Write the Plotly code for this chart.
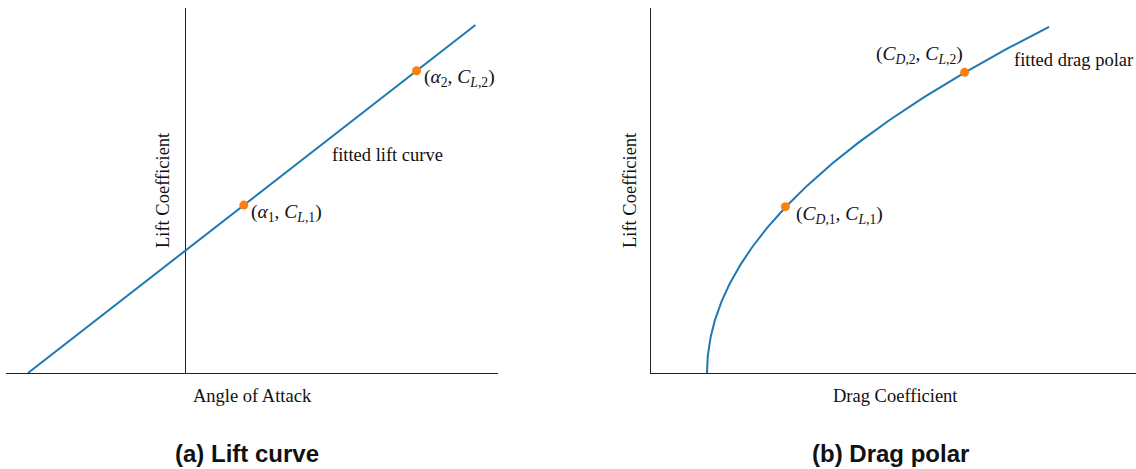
import plotly.graph_objects as go
import numpy as np

# Lift curve: linear fit between two measured points
alpha_fit = [-4.0, 7.4]          # deg, fitted line end points
cl_fit = [0.0, 1.14]
alpha_pts = [1.5, 5.9]
cl_pts = [0.55, 0.99]

# Drag polar: CD = CD0 + k * CL^2
cd0 = 0.01
k_polar = 0.0475
cl_polar_max = 1.134
cl_polar_pts = [0.545, 0.985]
cd_polar_pts = [0.024, 0.056]

W, H = 1136, 469
SERIF = "Liberation Serif"
SANS = "Liberation Sans"
BLUE = "#1f77b4"
ORANGE = "#ff7f0e"

fig = go.Figure()

# pixel frame of each panel
y_bot, y_top = 373, 8
left_x0, left_x1, left_zero = 6, 498, 185
right_x0, right_x1 = 651, 1136

ax_scale = (left_zero - 28) / 4.0        # px per degree
cl_scale = (y_bot - 25) / 1.14           # px per CL unit
cd_scale = 5600.0                        # px per CD unit

x_range_l = [(left_x0 - left_zero) / ax_scale, (left_x1 - left_zero) / ax_scale]
y_range = [0, (y_bot - y_top) / cl_scale]
x_range_r = [0, (right_x1 - right_x0) / cd_scale]

cl_line = np.linspace(0, cl_polar_max, 200)
cd_line = cd0 + k_polar * cl_line ** 2

fig.add_trace(go.Scatter(x=alpha_fit, y=cl_fit, mode="lines",
                         line=dict(color=BLUE, width=2), xaxis="x", yaxis="y",
                         hoverinfo="skip"))
fig.add_trace(go.Scatter(x=alpha_pts, y=cl_pts, mode="markers",
                         marker=dict(color=ORANGE, size=9), xaxis="x", yaxis="y"))
fig.add_trace(go.Scatter(x=cd_line, y=cl_line, mode="lines",
                         line=dict(color=BLUE, width=2), xaxis="x2", yaxis="y2",
                         hoverinfo="skip"))
fig.add_trace(go.Scatter(x=cd_polar_pts, y=cl_polar_pts, mode="markers",
                         marker=dict(color=ORANGE, size=9), xaxis="x2", yaxis="y2"))

def ax_common():
    return dict(showgrid=False, showticklabels=False, ticks="", fixedrange=True)

fig.update_layout(
    width=W, height=H,
    margin=dict(l=0, r=0, t=0, b=0),
    paper_bgcolor="white", plot_bgcolor="white",
    showlegend=False,
    xaxis=dict(domain=[left_x0 / W, left_x1 / W], range=x_range_l,
               showline=True, linecolor="#222", linewidth=1.3,
               zeroline=True, zerolinecolor="#222", zerolinewidth=1.3,
               anchor="y", **ax_common()),
    yaxis=dict(domain=[1 - y_bot / H, 1 - y_top / H], range=y_range,
               showline=False, zeroline=False, anchor="x", **ax_common()),
    xaxis2=dict(domain=[right_x0 / W, 1.0], range=x_range_r,
                showline=True, linecolor="#222", linewidth=1.3,
                zeroline=False, anchor="y2", **ax_common()),
    yaxis2=dict(domain=[1 - y_bot / H, 1 - y_top / H], range=y_range,
                showline=True, linecolor="#222", linewidth=1.3,
                zeroline=False, anchor="x2", **ax_common()),
)

tf = dict(family=SERIF, size=18.5, color="#111")
mf = dict(family=SERIF, size=19.5, color="#111")

def label(text, x, y, xref, yref, xanchor="left", yanchor="middle", xshift=0, yshift=0,
          angle=0, font=tf):
    fig.add_annotation(text=text, x=x, y=y, xref=xref, yref=yref, showarrow=False,
                       xanchor=xanchor, yanchor=yanchor, xshift=xshift, yshift=yshift,
                       textangle=angle, font=font)

# point labels
label("(<i>α</i><sub>1</sub>, <i>C</i><sub><i>L</i>,1</sub>)", alpha_pts[0], cl_pts[0],
      "x", "y", xshift=5, yshift=-8, font=mf)
label("(<i>α</i><sub>2</sub>, <i>C</i><sub><i>L</i>,2</sub>)", alpha_pts[1], cl_pts[1],
      "x", "y", xshift=5, yshift=-7, font=mf)
label("fitted lift curve", 3.69, 0.715, "x", "y")
label("(<i>C</i><sub><i>D</i>,1</sub>, <i>C</i><sub><i>L</i>,1</sub>)",
      cd_polar_pts[0], cl_polar_pts[0], "x2", "y2", xshift=9, yshift=-8, font=mf)
label("(<i>C</i><sub><i>D</i>,2</sub>, <i>C</i><sub><i>L</i>,2</sub>)",
      cd_polar_pts[1], cl_polar_pts[1], "x2", "y2", xanchor="right", xshift=0, yshift=17,
      font=mf)
label("fitted drag polar", 0.0645, 1.026, "x2", "y2")

# axis titles
label("Angle of Attack", 252 / W, 1 - 396 / H, "paper", "paper", xanchor="center")
label("Drag Coefficient", 895 / W, 1 - 396 / H, "paper", "paper", xanchor="center")
label("Lift Coefficient", 163 / W, 1 - 190 / H, "paper", "paper", xanchor="center",
      angle=-90)
label("Lift Coefficient", 630 / W, 1 - 190 / H, "paper", "paper", xanchor="center",
      angle=-90)

# panel captions
cap = dict(family=SANS, size=24, color="#111")
label("<b>(a) Lift curve</b>", 247 / W, 1 - 453 / H, "paper", "paper", xanchor="center",
      font=cap)
label("<b>(b) Drag polar</b>", 890 / W, 1 - 453 / H, "paper", "paper", xanchor="center",
      font=cap)

fig.write_html("out.html")
